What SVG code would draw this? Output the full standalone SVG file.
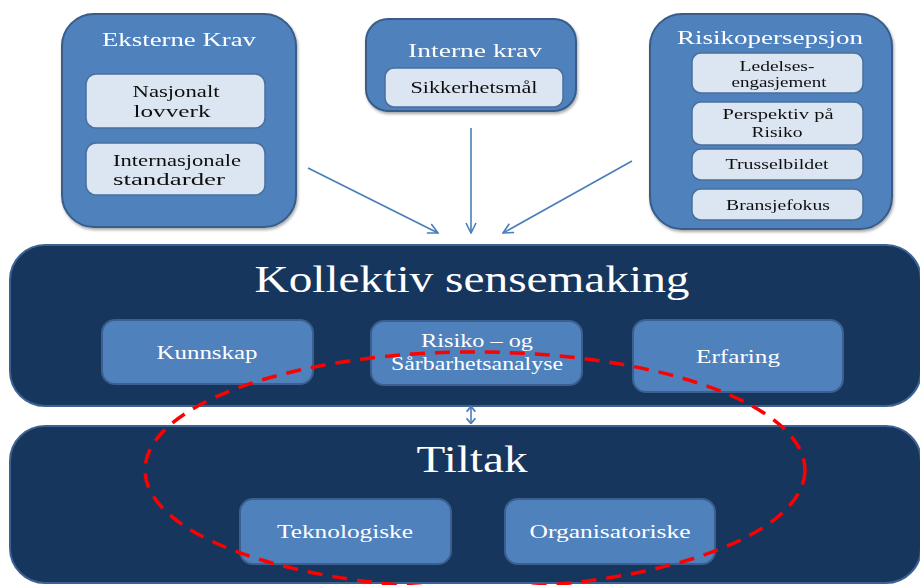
<svg xmlns="http://www.w3.org/2000/svg" width="920" height="585" viewBox="0 0 920 585">
  <defs>
    <marker id="head" viewBox="0 0 12 12" refX="11" refY="6" markerWidth="12" markerHeight="12" markerUnits="userSpaceOnUse" orient="auto-start-reverse">
      <path d="M1,1 L11,6 L1,11" fill="none" stroke="#4a7ebb" stroke-width="1.6"/>
    </marker>
    <marker id="tip" viewBox="0 0 8 12" refX="7.5" refY="6" markerWidth="7" markerHeight="11" markerUnits="userSpaceOnUse" orient="auto-start-reverse">
      <path d="M1,1 L7,6 L1,11" fill="none" stroke="#4a7ebb" stroke-width="2"/>
    </marker>
    <filter id="shadow" x="-10%" y="-10%" width="130%" height="130%">
      <feGaussianBlur in="SourceAlpha" stdDeviation="1.5"/>
      <feOffset dx="1" dy="2" result="b"/>
      <feComponentTransfer><feFuncA type="linear" slope="0.35"/></feComponentTransfer>
      <feMerge><feMergeNode/><feMergeNode in="SourceGraphic"/></feMerge>
    </filter>
  </defs>
  <style>
    .outer { fill: #4f81bd; stroke: #385d8a; stroke-width: 2; }
    .light { fill: #dce6f2; stroke: #4a6f9c; stroke-width: 1.5; }
    .dark { fill: #17365d; stroke: #3d6291; stroke-width: 2; }
    .mid { fill: #4f81bd; stroke: #3b5f8f; stroke-width: 2; }
    text { font-family: "Liberation Serif", "DejaVu Serif", serif; text-anchor: middle; }
    .title { fill: #ffffff; font-size: 19px; }
    .lbl { fill: #111111; font-size: 17px; }
    .small { fill: #111111; font-size: 14px; }
    .big { fill: #ffffff; font-size: 38px; }
    .wlbl { fill: #ffffff; font-size: 18px; }
    .conn { stroke: #4a7ebb; stroke-width: 1.6; fill: none; }
  </style>

  <!-- external requirements -->
  <g id="eksterne-krav" filter="url(#shadow)">
    <rect class="outer" x="62" y="14" width="234" height="213" rx="32"/>
    <text class="title" x="179" y="46" textLength="154" lengthAdjust="spacingAndGlyphs">Eksterne Krav</text>
    <rect class="light" x="86" y="74" width="179" height="54" rx="10"/>
    <text class="lbl" x="176" y="97" textLength="87" lengthAdjust="spacingAndGlyphs">Nasjonalt</text>
    <text class="lbl" x="172" y="117" textLength="77" lengthAdjust="spacingAndGlyphs">lovverk</text>
    <rect class="light" x="86" y="143" width="179" height="52" rx="10"/>
    <text class="lbl" x="177" y="166" textLength="128" lengthAdjust="spacingAndGlyphs">Internasjonale</text>
    <text class="lbl" x="169" y="185" textLength="112" lengthAdjust="spacingAndGlyphs">standarder</text>
  </g>

  <!-- internal requirements -->
  <g id="interne-krav" filter="url(#shadow)">
    <rect class="outer" x="366" y="19" width="210" height="92" rx="22"/>
    <text class="title" x="475" y="57" textLength="134" lengthAdjust="spacingAndGlyphs">Interne krav</text>
    <rect class="light" x="385" y="68" width="178" height="39" rx="9"/>
    <text class="lbl" x="474" y="93" textLength="127" lengthAdjust="spacingAndGlyphs">Sikkerhetsmål</text>
  </g>

  <!-- risk perception -->
  <g id="risikopersepsjon" filter="url(#shadow)">
    <rect class="outer" x="650" y="14" width="242" height="215" rx="32"/>
    <text class="title" x="770" y="44" textLength="186" lengthAdjust="spacingAndGlyphs">Risikopersepsjon</text>
    <rect class="light" x="692" y="53" width="171" height="40" rx="9"/>
    <text class="small" x="777" y="71" textLength="75" lengthAdjust="spacingAndGlyphs">Ledelses-</text>
    <text class="small" x="779" y="87" textLength="95" lengthAdjust="spacingAndGlyphs">engasjement</text>
    <rect class="light" x="692" y="102" width="171" height="43" rx="9"/>
    <text class="small" x="778" y="119" textLength="111" lengthAdjust="spacingAndGlyphs">Perspektiv på</text>
    <text class="small" x="777" y="137" textLength="51" lengthAdjust="spacingAndGlyphs">Risiko</text>
    <rect class="light" x="692" y="149" width="171" height="31" rx="9"/>
    <text class="small" x="777" y="169" textLength="103" lengthAdjust="spacingAndGlyphs">Trusselbildet</text>
    <rect class="light" x="692" y="189" width="171" height="31" rx="9"/>
    <text class="small" x="778" y="210" textLength="104" lengthAdjust="spacingAndGlyphs">Bransjefokus</text>
  </g>

  <!-- collective sensemaking -->
  <g id="kollektiv-sensemaking">
    <rect class="dark" x="10" y="245" width="911" height="161" rx="35"/>
    <text class="big" x="472" y="292" textLength="435" lengthAdjust="spacingAndGlyphs">Kollektiv sensemaking</text>
  </g>
  <g id="kunnskap">
    <rect class="mid" x="102" y="320" width="211" height="64" rx="13"/>
    <text class="wlbl" x="207" y="359" textLength="101" lengthAdjust="spacingAndGlyphs">Kunnskap</text>
  </g>
  <g id="risiko-analyse">
    <rect class="mid" x="371" y="321" width="211" height="64" rx="13"/>
    <text class="wlbl" x="477" y="347" font-size="17" textLength="112" lengthAdjust="spacingAndGlyphs">Risiko – og</text>
    <text class="wlbl" x="477" y="370" font-size="17" textLength="172" lengthAdjust="spacingAndGlyphs">Sårbarhetsanalyse</text>
  </g>
  <g id="erfaring">
    <rect class="mid" x="633" y="320" width="210" height="72" rx="13"/>
    <text class="wlbl" x="738" y="363" textLength="84" lengthAdjust="spacingAndGlyphs">Erfaring</text>
  </g>

  <!-- measures -->
  <g id="tiltak">
    <rect class="dark" x="10" y="426" width="911" height="157" rx="35"/>
    <text class="big" x="472" y="472" textLength="111" lengthAdjust="spacingAndGlyphs">Tiltak</text>
  </g>
  <g id="teknologiske">
    <rect class="mid" x="240" y="499" width="211" height="65" rx="13"/>
    <text class="wlbl" x="345" y="538" textLength="136" lengthAdjust="spacingAndGlyphs">Teknologiske</text>
  </g>
  <g id="organisatoriske">
    <rect class="mid" x="505" y="499" width="210" height="65" rx="13"/>
    <text class="wlbl" x="610" y="538" textLength="161" lengthAdjust="spacingAndGlyphs">Organisatoriske</text>
  </g>

  <!-- connectors -->
  <g id="connectors">
    <line class="conn" x1="308" y1="168" x2="438" y2="233" marker-end="url(#head)"/>
    <line class="conn" x1="471" y1="128" x2="471" y2="233" marker-end="url(#head)"/>
    <line class="conn" x1="632" y1="161" x2="503" y2="233" marker-end="url(#head)"/>
    <line class="conn" x1="471" y1="406" x2="471" y2="424" stroke-width="2" marker-start="url(#tip)" marker-end="url(#tip)"/>
  </g>

  <!-- highlighted area -->
  <ellipse id="fokus" cx="475" cy="470" rx="330" ry="118" fill="none" stroke="#ff0000" stroke-width="3.5" stroke-dasharray="15 10"/>
</svg>
